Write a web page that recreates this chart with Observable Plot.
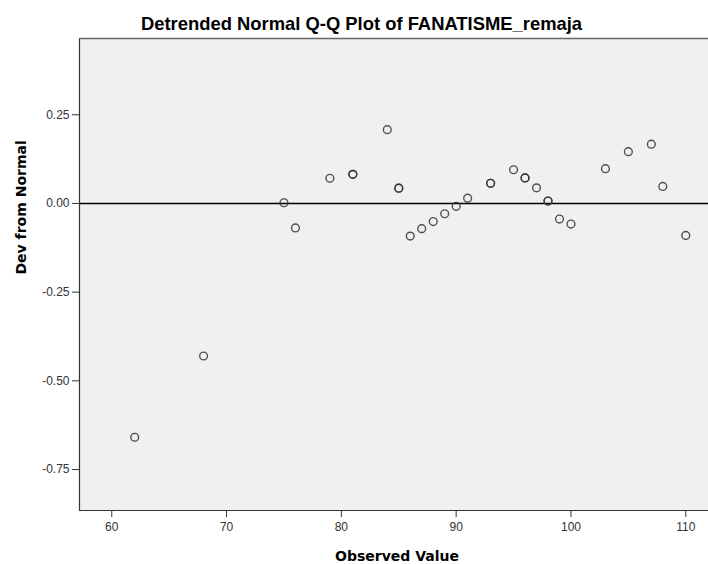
<!DOCTYPE html>
<html>
<head>
<meta charset="utf-8">
<script src="https://cdn.jsdelivr.net/npm/d3@7"></script>
<script src="https://cdn.jsdelivr.net/npm/@observablehq/plot@0.6"></script>
<style>
  html, body { margin: 0; padding: 0; background: #ffffff; }
  #chart { width: 708px; height: 564px; }
</style>
</head>
<body>
<div id="chart"></div>
<script>
// ---- data ----
const titleText = "Detrended Normal Q-Q Plot of FANATISME_remaja";
const xLabel = "Observed Value";
const yLabel = "Dev from Normal";

// one entry per case; tied cases are repeated (drawn on top of each other)
const observed = [62, 68, 75, 76, 79, 81, 81, 84, 85, 85, 86, 87, 88, 89, 90, 91, 93, 93,
                  95, 96, 96, 97, 98, 98, 99, 100, 103, 105, 107, 108, 110];
const devFromNormal = [-0.659, -0.430, 0.002, -0.069, 0.071, 0.082, 0.082, 0.208, 0.043, 0.043,
                       -0.092, -0.071, -0.051, -0.029, -0.008, 0.015, 0.057, 0.057,
                       0.095, 0.072, 0.072, 0.044, 0.007, 0.007, -0.044, -0.058,
                       0.098, 0.146, 0.167, 0.048, -0.090];

const xTicks = [60, 70, 80, 90, 100, 110];
const yTicks = [0.25, 0.00, -0.25, -0.50, -0.75];
const xDomain = [57.19, 111.98];
const yDomain = [-0.8655, 0.465];

const points = observed.map((v, i) => ({observed: v, dev: devFromNormal[i]}));

const chart = Plot.plot({
  width: 708,
  height: 564,
  marginLeft: 79,
  marginRight: 0,
  marginTop: 38,
  marginBottom: 54,
  style: {fontFamily: "'Liberation Sans', Arial, sans-serif", fontSize: "12px", background: "#ffffff", color: "#333"},
  x: {domain: xDomain},
  y: {domain: yDomain},
  marks: [
    Plot.frame({fill: "#f0f0f0", stroke: null}),
    Plot.axisX({ticks: xTicks, tickSize: 7, tickPadding: 5, tickFormat: d => String(d), label: null,
      stroke: "#333", fill: "#333", fontSize: 12}),
    Plot.axisY({ticks: yTicks, tickSize: 7, tickPadding: 3, tickFormat: d => d.toFixed(2), label: null,
      stroke: "#333", fill: "#333", fontSize: 12}),
    Plot.ruleY([0], {stroke: "#000", strokeWidth: 1.5}),
    Plot.dot(points, {x: "observed", y: "dev", r: 3.9, fill: "none", stroke: "#333", strokeWidth: 1.4, strokeOpacity: 0.85}),
    // plot border: left, top and bottom (right edge runs off the picture)
    Plot.ruleX([xDomain[0]], {stroke: "#333", strokeWidth: 1.2}),
    Plot.ruleY([yDomain[0]], {stroke: "#333", strokeWidth: 1.2}),
    Plot.ruleY([yDomain[1]], {stroke: "#666", strokeWidth: 1.5}),
    Plot.text([titleText], {frameAnchor: "top", lineAnchor: "bottom", dy: -9, dx: -32.5,
      fontSize: 18.4, fontWeight: "bold", fill: "#000", fontFamily: "'Liberation Sans', Arial, sans-serif"}),
    Plot.text([xLabel], {frameAnchor: "bottom", lineAnchor: "bottom", dy: 50, dx: 3,
      fontSize: 14, fontWeight: "bold", fill: "#000", fontFamily: "'DejaVu Sans', sans-serif"}),
    Plot.text([yLabel], {frameAnchor: "left", rotate: -90, dx: -58,
      fontSize: 14, fontWeight: "bold", fill: "#000", fontFamily: "'DejaVu Sans', sans-serif"})
  ]
});
document.getElementById("chart").appendChild(chart);
</script>
</body>
</html>
